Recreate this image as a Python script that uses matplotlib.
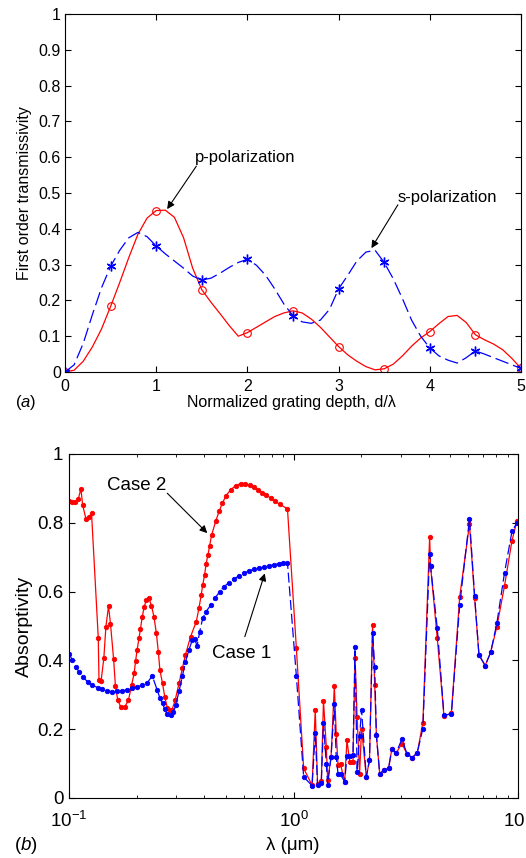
import matplotlib
matplotlib.use("Agg")
import matplotlib.pyplot as plt

plt.rcParams['font.family'] = ['Liberation Sans', 'DejaVu Sans']
plt.rcParams['mathtext.fontset'] = 'custom'
plt.rcParams['mathtext.rm'] = 'Liberation Sans'
plt.rcParams['mathtext.it'] = 'Liberation Sans:italic'

# (a) first order transmissivity vs normalized grating depth
depth = [0.0, 0.1, 0.2, 0.3, 0.4, 0.5, 0.6, 0.7, 0.8, 0.9,
         1.0, 1.1, 1.2, 1.3, 1.4, 1.5, 1.6, 1.7, 1.8, 1.9,
         2.0, 2.1, 2.2, 2.3, 2.4, 2.5, 2.6, 2.7, 2.8, 2.9,
         3.0, 3.1, 3.2, 3.3, 3.4, 3.5, 3.6, 3.7, 3.8, 3.9,
         4.0, 4.1, 4.2, 4.3, 4.4, 4.5, 4.6, 4.7, 4.8, 4.9, 5.0]
p_pol = [0.0, 0.005, 0.03, 0.07, 0.12, 0.183, 0.25, 0.32, 0.385, 0.43,
         0.451, 0.452, 0.432, 0.375, 0.29, 0.23, 0.195, 0.163, 0.13, 0.10,
         0.11, 0.125, 0.14, 0.155, 0.165, 0.171, 0.165, 0.148, 0.125, 0.098,
         0.071, 0.048, 0.03, 0.015, 0.006, 0.009, 0.022, 0.045, 0.072, 0.095,
         0.113, 0.135, 0.155, 0.158, 0.138, 0.104, 0.09, 0.078, 0.062, 0.038, 0.01]
s_pol = [0.0, 0.02, 0.08, 0.16, 0.235, 0.295, 0.34, 0.375, 0.39, 0.378,
         0.352, 0.33, 0.31, 0.29, 0.268, 0.257, 0.262, 0.276, 0.292, 0.306,
         0.315, 0.298, 0.27, 0.232, 0.19, 0.157, 0.14, 0.136, 0.145, 0.175,
         0.232, 0.27, 0.31, 0.335, 0.34, 0.306, 0.26, 0.205, 0.145, 0.10,
         0.067, 0.045, 0.033, 0.025, 0.04, 0.059, 0.05, 0.04, 0.03, 0.02, 0.01]

# (b) absorptivity vs wavelength (um)
wl_case2_left = [0.100, 0.103, 0.106, 0.110, 0.113, 0.115, 0.119, 0.123, 0.126, 0.135,
                 0.136, 0.139, 0.143, 0.146, 0.150, 0.153, 0.158, 0.161, 0.165, 0.170,
                 0.177, 0.184, 0.190, 0.195, 0.198, 0.201, 0.205, 0.208, 0.212, 0.216,
                 0.221, 0.227, 0.233, 0.239, 0.245, 0.250, 0.254, 0.261, 0.267, 0.274,
                 0.281, 0.288, 0.297, 0.309, 0.320, 0.330, 0.348, 0.369, 0.379, 0.388,
                 0.394, 0.402, 0.408, 0.416, 0.423, 0.432, 0.450, 0.466, 0.482, 0.501,
                 0.525, 0.552, 0.581, 0.607, 0.637, 0.665, 0.697, 0.726, 0.755, 0.791,
                 0.826, 0.867, 0.940]
abs_case2_left = [0.864, 0.860, 0.860, 0.869, 0.899, 0.852, 0.811, 0.818, 0.828, 0.466,
                  0.343, 0.340, 0.408, 0.498, 0.558, 0.507, 0.404, 0.325, 0.284, 0.265,
                  0.265, 0.284, 0.328, 0.362, 0.398, 0.430, 0.464, 0.491, 0.527, 0.554,
                  0.576, 0.581, 0.559, 0.527, 0.479, 0.425, 0.372, 0.333, 0.294, 0.263,
                  0.255, 0.257, 0.284, 0.333, 0.377, 0.416, 0.469, 0.513, 0.551, 0.590,
                  0.619, 0.649, 0.681, 0.707, 0.733, 0.765, 0.804, 0.833, 0.857, 0.879,
                  0.896, 0.908, 0.914, 0.914, 0.909, 0.904, 0.896, 0.888, 0.881, 0.872,
                  0.864, 0.854, 0.841]
wl_case1_left = [0.100, 0.1035, 0.107, 0.111, 0.115, 0.121, 0.127, 0.134, 0.141, 0.148,
                 0.156, 0.164, 0.173, 0.182, 0.191, 0.201, 0.212, 0.222, 0.235, 0.247,
                 0.254, 0.261, 0.267, 0.274, 0.284, 0.292, 0.299, 0.309, 0.320, 0.330,
                 0.342, 0.354, 0.363, 0.372, 0.382, 0.394, 0.408, 0.428, 0.447, 0.469,
                 0.490, 0.515, 0.542, 0.571, 0.601, 0.632, 0.665, 0.701, 0.738, 0.776,
                 0.817, 0.861, 0.895, 0.940]
abs_case1_left = [0.420, 0.401, 0.381, 0.367, 0.352, 0.338, 0.328, 0.321, 0.316, 0.312,
                  0.309, 0.310, 0.312, 0.314, 0.319, 0.323, 0.328, 0.333, 0.355, 0.314,
                  0.291, 0.275, 0.258, 0.243, 0.241, 0.250, 0.270, 0.310, 0.355, 0.395,
                  0.430, 0.459, 0.462, 0.442, 0.483, 0.522, 0.542, 0.561, 0.581, 0.600,
                  0.614, 0.626, 0.636, 0.646, 0.653, 0.660, 0.665, 0.668, 0.671, 0.675,
                  0.678, 0.681, 0.683, 0.684]
wl_right = [1.03, 1.11, 1.21, 1.25, 1.28, 1.33, 1.36, 1.40, 1.42, 1.47,
            1.52, 1.55, 1.58, 1.62, 1.69, 1.73, 1.78, 1.84, 1.88, 1.92,
            1.97, 2.01, 2.11, 2.18, 2.25, 2.30, 2.34, 2.42, 2.54, 2.65,
            2.74, 2.86, 3.04, 3.20, 3.38, 3.56, 3.77, 4.04, 4.08, 4.37,
            4.68, 5.05, 5.50, 6.08, 6.41, 6.70, 7.14, 7.55, 8.05, 8.71,
            9.40, 9.89]
abs_case2_right = [0.435, 0.086, 0.037, 0.257, 0.042, 0.050, 0.283, 0.149, 0.052, 0.119,
                   0.326, 0.187, 0.095, 0.098, 0.047, 0.168, 0.105, 0.105, 0.406, 0.236,
                   0.071, 0.202, 0.061, 0.110, 0.503, 0.328, 0.183, 0.071, 0.081, 0.086,
                   0.141, 0.130, 0.158, 0.129, 0.117, 0.132, 0.219, 0.758, 0.673, 0.464,
                   0.238, 0.247, 0.585, 0.796, 0.580, 0.416, 0.385, 0.423, 0.498, 0.617,
                   0.748, 0.805]
abs_case1_right = [0.354, 0.061, 0.036, 0.190, 0.037, 0.044, 0.218, 0.098, 0.039, 0.119,
                   0.273, 0.119, 0.069, 0.069, 0.047, 0.122, 0.122, 0.124, 0.440, 0.076,
                   0.180, 0.257, 0.061, 0.110, 0.481, 0.381, 0.183, 0.071, 0.081, 0.086,
                   0.141, 0.130, 0.171, 0.129, 0.117, 0.132, 0.202, 0.710, 0.673, 0.493,
                   0.241, 0.244, 0.561, 0.811, 0.587, 0.416, 0.385, 0.423, 0.508, 0.655,
                   0.775, 0.800]

W, H = 526, 858
fig = plt.figure(figsize=(W / 100, H / 100), dpi=100)


def px_axes(left, top, right, bottom):
    return fig.add_axes([left / W, 1 - bottom / H, (right - left) / W, (bottom - top) / H])


arrow = dict(arrowstyle='-|>', color='black', lw=0.8, mutation_scale=11, shrinkA=0, shrinkB=0)

# ---- panel (a)
ax1 = px_axes(65, 14, 521, 372)
ax1.plot(depth, p_pol, color='red', lw=0.9, marker='o', ms=5.5, mfc='none', mec='red',
         mew=0.8, markevery=5)
ax1.plot(depth, s_pol, color='blue', lw=0.9, ls=(0, (11, 4)), marker=(6, 2, 0), ms=7,
         mec='blue', mew=1.0, markevery=5)
ax1.set_xlim(0, 5)
ax1.set_ylim(0, 1)
ax1.set_xticks([0, 1, 2, 3, 4, 5])
ax1.set_yticks([0, 0.1, 0.2, 0.3, 0.4, 0.5, 0.6, 0.7, 0.8, 0.9, 1])
ax1.set_yticklabels(['0', '0.1', '0.2', '0.3', '0.4', '0.5', '0.6', '0.7', '0.8', '0.9', '1'])
ax1.tick_params(direction='in', top=True, right=True, labelsize=11.5, length=4, pad=3)
ax1.tick_params(axis='x', pad=5)
ax1.annotate('', xy=(1.12, 0.455), xytext=(1.44, 0.575), arrowprops=arrow)
ax1.text(1.43, 0.598, 'p-polarization', fontsize=12, va='center', ha='left')
ax1.annotate('', xy=(3.36, 0.346), xytext=(3.65, 0.467), arrowprops=arrow)
ax1.text(3.65, 0.487, 's-polarization', fontsize=12, va='center', ha='left')

fig.text(24.5 / W, 1 - 193 / H, 'First order transmissivity', rotation=90,
         ha='center', va='center', fontsize=11.5)
fig.text(291 / W, 1 - 403 / H, r'Normalized grating depth, d/λ', ha='center', va='center',
         fontsize=11.5)
fig.text(26 / W, 1 - 403 / H, r'($\it{a}$)', ha='center', va='center', fontsize=12)

# ---- panel (b)
ax2 = px_axes(69, 454, 518, 798)
ax2.plot(wl_case2_left + wl_right, abs_case2_left + abs_case2_right, color='red', lw=0.9,
         marker='o', ms=3.2, mec='red', mew=0.6)
ax2.plot(wl_case1_left + wl_right, abs_case1_left + abs_case1_right, color='blue', lw=0.9,
         ls=(0, (8, 3)), marker='o', ms=3.2, mec='blue', mew=0.6)
ax2.set_xscale('log')
ax2.set_xlim(0.1, 10)
ax2.set_ylim(0, 1)
ax2.set_yticks([0, 0.2, 0.4, 0.6, 0.8, 1])
ax2.set_yticklabels(['0', '0.2', '0.4', '0.6', '0.8', '1'])
ax2.tick_params(which='both', direction='in', top=True, right=True)
ax2.tick_params(which='major', labelsize=13.5, length=4, pad=4)
ax2.tick_params(which='minor', length=2.5)
ax2.tick_params(axis='x', which='major', pad=9)
ax2.annotate('', xy=(0.413, 0.770), xytext=(0.274, 0.886), arrowprops=arrow)
ax2.text(0.147, 0.909, 'Case 2', fontsize=13.5, va='center', ha='left')
ax2.annotate('', xy=(0.745, 0.653), xytext=(0.607, 0.469), arrowprops=arrow)
ax2.text(0.434, 0.420, 'Case 1', fontsize=13.5, va='center', ha='left')

fig.text(24 / W, 1 - 626 / H, 'Absorptivity', rotation=90, ha='center', va='center',
         fontsize=14)
fig.text(293 / W, 1 - 846 / H, 'λ (μm)', ha='center', va='center', fontsize=13.5)
fig.text(26 / W, 1 - 846 / H, r'($\it{b}$)', ha='center', va='center', fontsize=13.5)

for ax in (ax1, ax2):
    for sp in ax.spines.values():
        sp.set_linewidth(0.8)

fig.savefig('out.png', dpi=100)
